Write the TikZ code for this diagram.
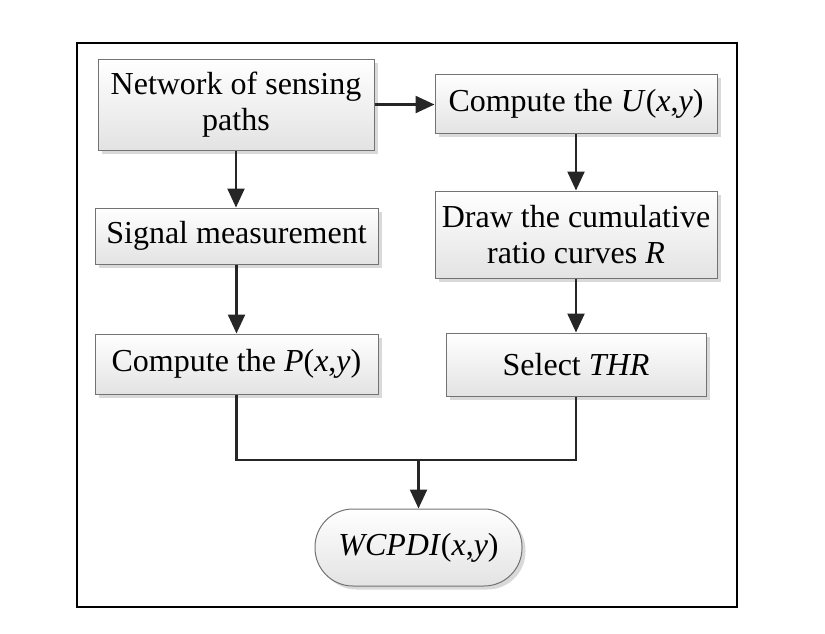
\documentclass[tikz,border=0pt]{standalone}
\usepackage{fontspec}
\setmainfont{Liberation Serif}
\usepackage{tikz}
\usetikzlibrary{arrows.meta,shadows}

\begin{document}
\begin{tikzpicture}[x=1pt,y=-1pt,
    font=\fontsize{32}{36}\selectfont,
    box/.style={draw=black!55,line width=1pt,top color=white,bottom color=gray!22,
      align=center,inner sep=2pt,
      drop shadow={shadow xshift=3.5pt,shadow yshift=-3.5pt,fill=gray!30,opacity=1}},
    arr/.style={draw=black!85,line width=2.4pt,-{Triangle[length=19pt,width=17pt]}},
    ln/.style={draw=black!85,line width=2.4pt}]
            \useasboundingbox (0,0) rectangle (825,633);
            \draw[line width=2.8pt] (77,43) rectangle (737,607);
            \node[box,minimum width=276pt,minimum height=91pt] (net) at (236,104.5) {Network of sensing\\paths};
            \node[box,minimum width=282pt,minimum height=59pt] (cu) at (576,104) {Compute the \textit{U}(\textit{x},\textit{y})};
            \node[box,minimum width=282pt,minimum height=87pt] (cum) at (576,234.5) {Draw the cumulative\\ratio curves \textit{R}};
            \node[box,minimum width=283pt,minimum height=56pt] (sig) at (236.5,236) {Signal measurement};
            \node[box,minimum width=283pt,minimum height=60pt] (cp) at (236.5,364) {Compute the \textit{P}(\textit{x},\textit{y})};
            \node[box,minimum width=260pt,minimum height=63pt] (thr) at (576,364.5) {Select \textit{THR}};
            \node[box,rounded corners=38pt,minimum width=207pt,minimum height=77pt] (wc) at (418.5,547.5) {\textit{WCPDI}(\textit{x},\textit{y})};
            \coordinate (join) at (418.5,460);
            \draw[arr] (net.east) -- (net.east -| cu.west);
            \draw[arr] (net.south) -- (net.south |- sig.north);
            \draw[arr] (sig.south) -- (sig.south |- cp.north);
            \draw[arr] (cu.south) -- (cum.north);
            \draw[arr] (cum.south) -- (thr.north);
            \draw[ln] (cp.south) |- (join) -| (thr.south);
            \draw[arr] (join) -- (wc.north);
        \end{tikzpicture}
\end{document}
